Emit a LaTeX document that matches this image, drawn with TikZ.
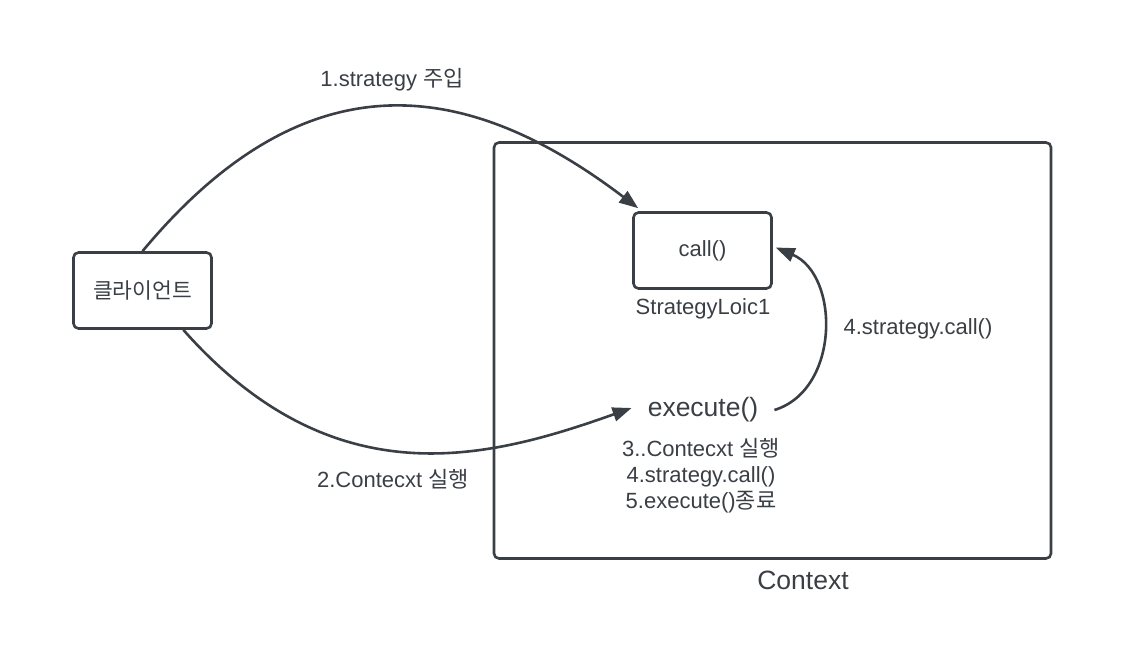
\documentclass[tikz,border=0pt]{standalone}
\usepackage{fontspec}
\setmainfont{Liberation Sans}
\newfontfamily\cjk{Noto Sans CJK KR}
\usetikzlibrary{arrows.meta,calc}
\definecolor{ink}{HTML}{3A3F46}
\begin{document}
\begin{tikzpicture}[x=1pt,y=-1pt,
  box/.style={draw=ink, line width=2.6pt, rounded corners=5pt, fill=white, inner sep=0pt},
  lbl/.style={text=ink, font=\fontsize{22}{26}\selectfont, inner sep=2pt},
  biglbl/.style={text=ink, font=\fontsize{26.5}{30}\selectfont, inner sep=2pt},
  conn/.style={draw=ink, line width=2.6pt, -{Triangle[length=19pt,width=14pt]}}]
\useasboundingbox (0,0) rectangle (1125,652);
% boxes
\node[box, minimum width=557pt, minimum height=416pt] (context) at (772.5,350.5) {};
\node[box, minimum width=138pt, minimum height=76pt, font=\cjk\fontsize{21.5}{24}\selectfont, text=ink] (client) at (142.5,290.5) {클라이언트};
\node[box, minimum width=138pt, minimum height=76pt, font=\fontsize{22}{26}\selectfont, text=ink] (call) at (702.5,250.5) {call()};
% labels
\node[lbl] (l1) at (392,79.5) {1.strategy {\cjk 주입}};
\node[lbl] (l2) at (393,479) {2.Contecxt {\cjk 실행}};
\node[lbl] (sl) at (703,308.5) {StrategyLoic1};
\node[lbl] (l4) at (918,329) {4.strategy.call()};
\node[biglbl] (exec) at (703,410) {execute()};
\node[lbl, align=center] (steps) at (701,476) {3..Contecxt {\cjk 실행}\\4.strategy.call()\\5.execute(){\cjk 종료}};
\node[biglbl] (ctxlbl) at (803,580) {Context};
% connectors
\draw[conn] (client.north) .. controls (310,50) and (472,82) .. ($(call.north west)+(6,-3)$);
\draw[conn] ($(client.south)!0.58!(client.south east)$) .. controls (334,500) and (488,459) .. ($(exec.west)+(-14,-2)$);
\draw[conn] ($(exec.east)+(14,0)$) .. controls (840,390) and (840,275) .. ($(call.east)+(3,-3)$);
\end{tikzpicture}
\end{document}
